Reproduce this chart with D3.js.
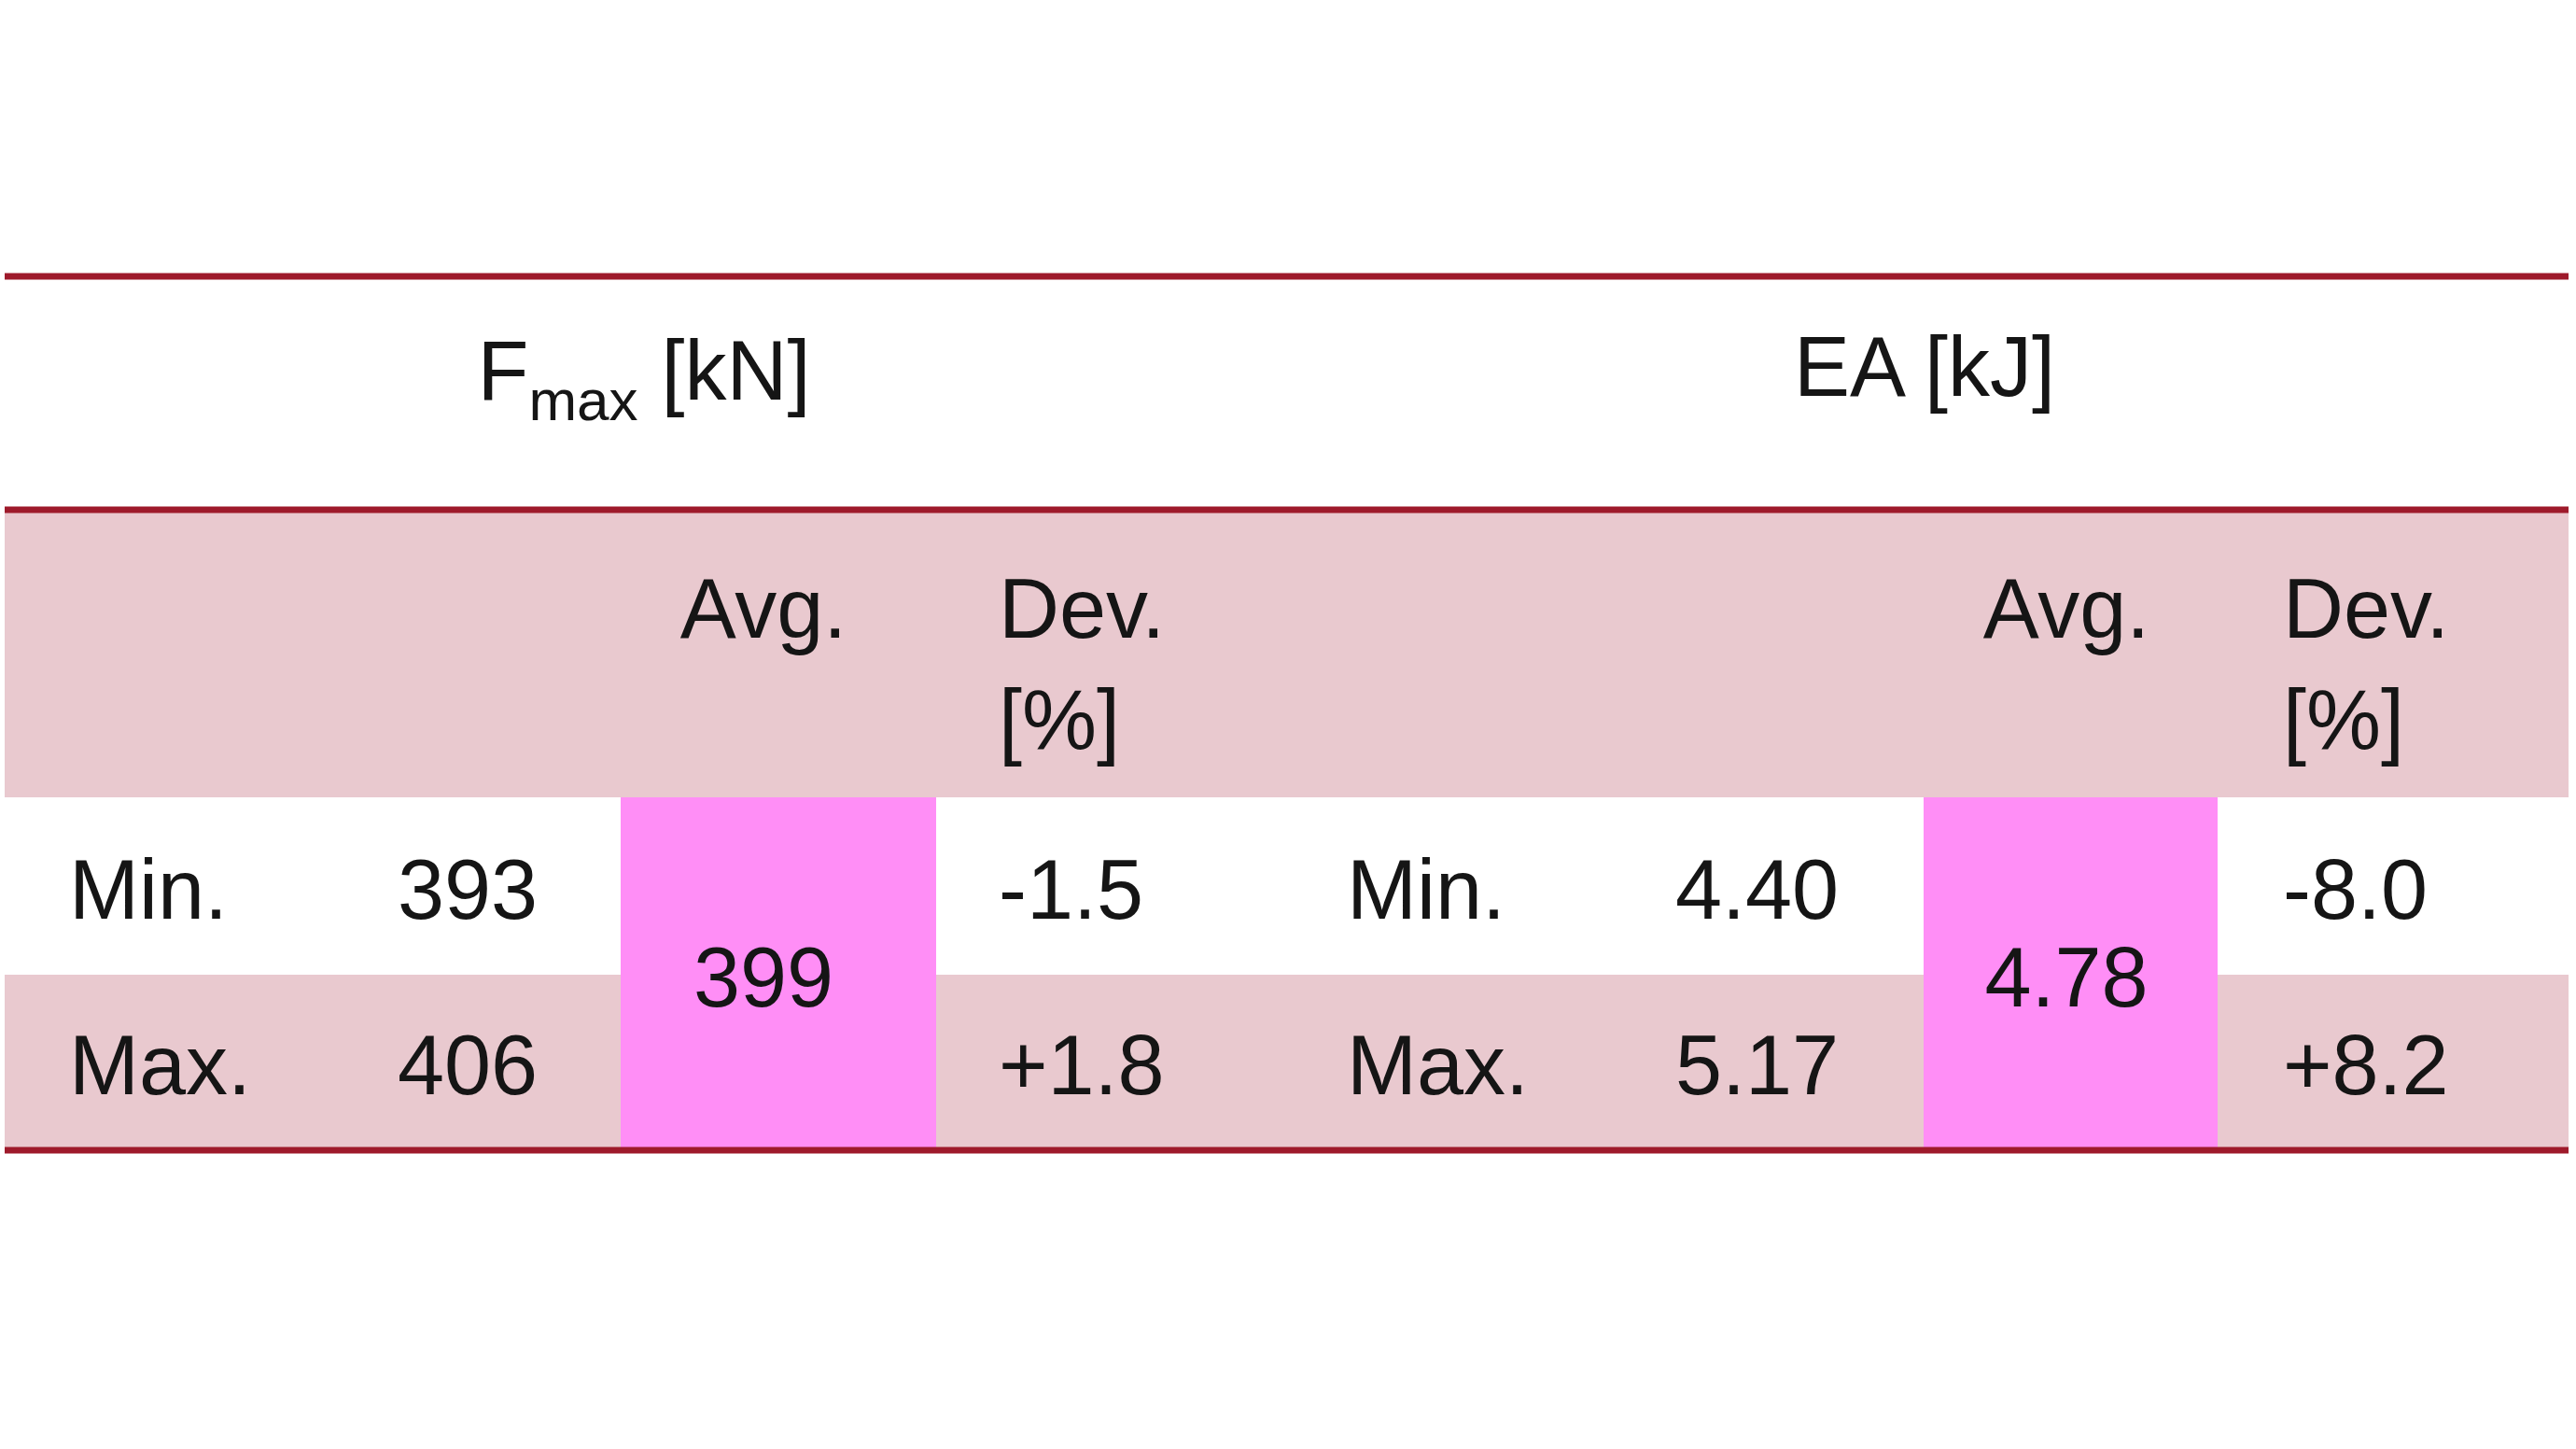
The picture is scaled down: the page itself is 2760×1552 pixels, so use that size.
<!DOCTYPE html>
<html><head><meta charset="utf-8">
<script src="https://cdn.jsdelivr.net/npm/d3@7"></script>
<style>body{margin:0;background:#fff}svg{display:block}</style>
</head><body>
<script>
const groups = ["F_max [kN]", "EA [kJ]"];
const rowLabels = ["Min.", "Max."];
const fmaxValues = ["393", "406"];
const fmaxAvg = "399";
const fmaxDev = ["-1.5", "+1.8"];
const eaValues = ["4.40", "5.17"];
const eaAvg = "4.78";
const eaDev = ["-8.0", "+8.2"];

const W = 2760, H = 1552;
const svg = d3.select("body").append("svg").attr("width", W).attr("height", H);
const font = "Liberation Sans, Arial, sans-serif";
const fs = 90, col = "#151515";
const lineC = "#9e1a2b", pink = "#e9c9cf", mag = "#ff8ef6";
const x0 = 5, x1 = 2752;

svg.append("rect").attr("x", x0).attr("y", 549).attr("width", x1 - x0).attr("height", 305).attr("fill", pink);
svg.append("rect").attr("x", x0).attr("y", 1044).attr("width", x1 - x0).attr("height", 188).attr("fill", pink);
[[665, 1003], [2061, 2376]].forEach(([a, b]) =>
  svg.append("rect").attr("x", a).attr("y", 854).attr("width", b - a).attr("height", 378).attr("fill", mag));
[296, 546, 1232].forEach(y =>
  svg.append("line").attr("x1", x0).attr("x2", x1).attr("y1", y).attr("y2", y).attr("stroke", lineC).attr("stroke-width", 7));

function txt(x, y, s, anchor = "start") {
  return svg.append("text").attr("x", x).attr("y", y).attr("font-family", font).attr("font-size", fs)
    .attr("fill", col).attr("text-anchor", anchor).text(s);
}
const g1 = svg.append("text").attr("x", 690).attr("y", 428).attr("font-family", font).attr("font-size", fs).attr("fill", col).attr("text-anchor", "middle");
g1.append("tspan").text("F");
g1.append("tspan").attr("font-size", 62).attr("dy", 22).text(groups[0].split("_")[1].split(" ")[0]);
g1.append("tspan").attr("dy", -22).text(" " + groups[0].split(" ")[1]);
txt(2062, 424, groups[1], "middle");

const sections = [
  {lab: 74, val: 426, avg: 818, dev: 1070, vals: fmaxValues, a: fmaxAvg, d: fmaxDev},
  {lab: 1443, val: 1795, avg: 2214, dev: 2446, vals: eaValues, a: eaAvg, d: eaDev}
];
sections.forEach((s) => {
  txt(s.avg, 683, "Avg.", "middle");
  txt(s.dev, 683, "Dev.");
  txt(s.dev, 802, "[%]");
  rowLabels.forEach((r, j) => {
    const y = j === 0 ? 984 : 1172;
    txt(s.lab, y, r);
    txt(s.val, y, s.vals[j]);
    txt(s.dev, y, s.d[j]);
  });
  txt(s.avg, 1078, s.a, "middle");
});
</script>
</body></html>
